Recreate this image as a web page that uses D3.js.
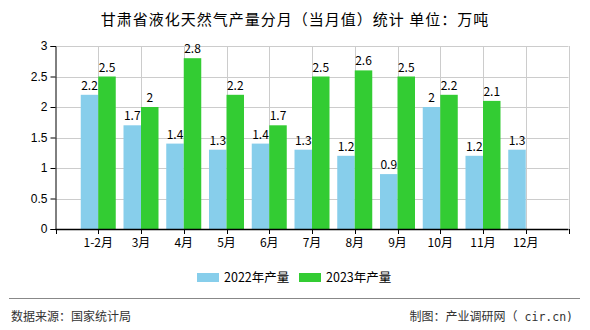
<!DOCTYPE html>
<html><head><meta charset="utf-8">
<script src="https://cdn.jsdelivr.net/npm/d3@7"></script>
<style>body{margin:0;background:#fff;}svg{display:block;font-family:"Noto Sans CJK SC","DejaVu Sans",sans-serif;}</style>
</head><body>
<svg id="c" width="590" height="330"></svg>
<script>
const categories = ["1-2月","3月","4月","5月","6月","7月","8月","9月","10月","11月","12月"];
const seriesNames = ["2022年产量","2023年产量"];
const values2022 = [2.2,1.7,1.4,1.3,1.4,1.3,1.2,0.9,2,1.2,1.3];
const values2023 = [2.5,2,2.8,2.2,1.7,2.5,2.6,2.5,2.2,2.1,null];
const yTicks = [0,0.5,1,1.5,2,2.5,3];
const colors = ["#87CEEB","#33CC33"];

const svg = d3.select("#c");
const L=55.5, R=568.5, T=46, B=229;
const x = d3.scalePoint().domain(categories).range([L,R]).padding(1);
const step = x.step();
const y = d3.scaleLinear().domain([0,3]).range([B,T]);
const bw = 17.5;

// title
svg.append("text").attr("x",295).attr("y",25).attr("text-anchor","middle")
  .attr("font-size",15).attr("letter-spacing",1).attr("fill","#000").text("甘肃省液化天然气产量分月（当月值）统计 单位：万吨");

// horizontal grid
svg.append("g").selectAll("line").data(yTicks.slice(1)).join("line")
  .attr("x1",L).attr("x2",R).attr("y1",d=>Math.round(y(d))+0.5).attr("y2",d=>Math.round(y(d))+0.5)
  .attr("stroke","#ccc");
// vertical grid
const vpos = d3.range(1,13).map(i=>L+i*step);
svg.append("g").selectAll("line").data(vpos).join("line")
  .attr("x1",d=>Math.round(d)+0.5).attr("x2",d=>Math.round(d)+0.5).attr("y1",T).attr("y2",B)
  .attr("stroke","#ccc");

// bars
const series = [values2022, values2023];
series.forEach((vals,si)=>{
  const g = svg.append("g");
  categories.forEach((c,i)=>{
    const v = vals[i];
    if(v==null) return;
    const x0 = x(c) + (si===0 ? -bw : 0);
    g.append("rect").attr("x",x0).attr("y",y(v)).attr("width",bw).attr("height",B-y(v)).attr("fill",colors[si]);
    g.append("text").attr("x",x0+bw/2).attr("y",y(v)-5).attr("text-anchor","middle")
      .attr("font-size",12).attr("fill","#000").text(v);
  });
});

// y axis
const ya = svg.append("g").attr("transform",`translate(${L},0)`)
  .call(d3.axisLeft(y).tickValues(yTicks).tickSize(5).tickFormat(d=>d));
ya.select(".domain").attr("stroke","#000");
ya.selectAll("text").attr("font-size",12).attr("fill","#000").attr("font-family","inherit");
// x axis
const xa = svg.append("g").attr("transform",`translate(0,${B})`);
xa.append("line").attr("x1",L).attr("x2",R).attr("y1",0.5).attr("y2",0.5).attr("stroke","#000").attr("stroke-width",1.5);
xa.selectAll("line.t").data([L].concat(vpos)).join("line").attr("class","t")
  .attr("x1",d=>Math.round(d)+0.5).attr("x2",d=>Math.round(d)+0.5).attr("y1",0).attr("y2",5).attr("stroke","#000");
xa.selectAll("text").data(categories).join("text")
  .attr("x",d=>x(d)).attr("y",18).attr("text-anchor","middle").attr("font-size",12).attr("fill","#000").text(d=>d);

// legend
const lg = svg.append("g");
[[197,224],[299,326]].forEach((p,i)=>{
  lg.append("rect").attr("x",p[0]).attr("y",273).attr("width",22).attr("height",9).attr("fill",colors[i]);
  lg.append("text").attr("x",p[1]).attr("y",282).attr("font-size",12.5).attr("fill","#000").text(seriesNames[i]);
});

// footer
svg.append("line").attr("x1",9).attr("x2",580).attr("y1",298.5).attr("y2",298.5).attr("stroke","#888");
svg.append("text").attr("x",11).attr("y",321).attr("font-size",12).attr("fill","#333").text("数据来源：国家统计局");
const ft = svg.append("text").attr("x",573).attr("y",321).attr("text-anchor","end").attr("font-size",12).attr("fill","#333");
ft.append("tspan").text("制图：产业调研网（");
ft.append("tspan").attr("font-family","DejaVu Sans Mono").attr("font-size",11.5).attr("xml:space","preserve").text(" cir.cn)");
</script>
</body></html>
